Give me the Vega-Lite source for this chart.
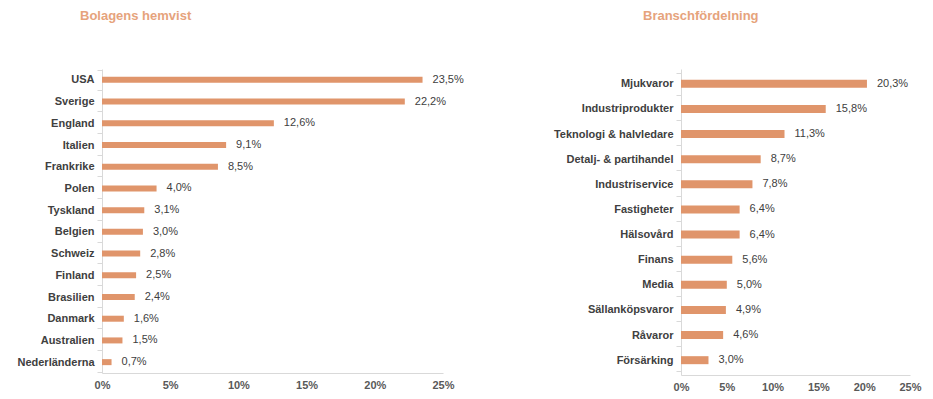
{
  "$schema": "https://vega.github.io/schema/vega-lite/v6.json",
  "padding": {"left": 5, "top": 10, "right": 5, "bottom": 5},
  "config": {
    "font": "Liberation Sans",
    "view": {"stroke": null},
    "concat": {"spacing": 89},
    "locale": {"number": {"decimal": ",", "thousands": " ", "grouping": [3], "currency": ["", " kr"]}},
    "axisY": {"title": null, "labelFont": "Liberation Sans", "labelFontSize": 11, "labelFontWeight": "bold", "labelColor": "#404040", "domainColor": "#D9D9D9", "tickColor": "#D9D9D9", "tickSize": 5, "tickBand": "extent", "labelPadding": 3, "grid": false},
    "axisX": {"title": null, "labelFont": "Liberation Sans", "labelFontSize": 11, "labelFontWeight": "bold", "labelColor": "#595959", "domainColor": "#D9D9D9", "ticks": false, "labelPadding": 6, "grid": false, "labelFlush": false}
  },
  "hconcat": [
    {
      "title": {"text": "Bolagens hemvist", "anchor": "start", "frame": "group", "dx": -22, "offset": 40, "fontSize": 13, "fontWeight": "bold", "color": "#E6A37C", "font": "Liberation Sans"},
      "width": 341,
      "height": 304,
      "data": {"values": [
        {"land": "USA", "andel": 0.235},
        {"land": "Sverige", "andel": 0.222},
        {"land": "England", "andel": 0.126},
        {"land": "Italien", "andel": 0.091},
        {"land": "Frankrike", "andel": 0.085},
        {"land": "Polen", "andel": 0.040},
        {"land": "Tyskland", "andel": 0.031},
        {"land": "Belgien", "andel": 0.030},
        {"land": "Schweiz", "andel": 0.028},
        {"land": "Finland", "andel": 0.025},
        {"land": "Brasilien", "andel": 0.024},
        {"land": "Danmark", "andel": 0.016},
        {"land": "Australien", "andel": 0.015},
        {"land": "Nederländerna", "andel": 0.007}
      ]},
      "encoding": {
        "y": {"field": "land", "type": "nominal", "sort": null, "axis": {"minExtent": 97, "maxExtent": 97}},
        "x": {"field": "andel", "type": "quantitative", "scale": {"domain": [0, 0.25]}, "axis": {"format": ".0%", "values": [0, 0.05, 0.1, 0.15, 0.2, 0.25]}}
      },
      "layer": [
        {"mark": {"type": "bar", "color": "#E0956B", "size": 6}},
        {"mark": {"type": "text", "align": "left", "dx": 10, "fontSize": 11, "color": "#404040", "font": "Liberation Sans"},
         "encoding": {"text": {"field": "andel", "type": "quantitative", "format": ".1%"}}}
      ]
    },
    {
      "title": {"text": "Branschfördelning", "anchor": "start", "frame": "group", "dx": -38, "offset": 40, "fontSize": 13, "fontWeight": "bold", "color": "#E6A37C", "font": "Liberation Sans"},
      "width": 229,
      "height": 306,
      "data": {"values": [
        {"bransch": "Mjukvaror", "andel": 0.203},
        {"bransch": "Industriprodukter", "andel": 0.158},
        {"bransch": "Teknologi & halvledare", "andel": 0.113},
        {"bransch": "Detalj- & partihandel", "andel": 0.087},
        {"bransch": "Industriservice", "andel": 0.078},
        {"bransch": "Fastigheter", "andel": 0.064},
        {"bransch": "Hälsovård", "andel": 0.064},
        {"bransch": "Finans", "andel": 0.056},
        {"bransch": "Media", "andel": 0.050},
        {"bransch": "Sällanköpsvaror", "andel": 0.049},
        {"bransch": "Råvaror", "andel": 0.046},
        {"bransch": "Försärking", "andel": 0.030}
      ]},
      "encoding": {
        "y": {"field": "bransch", "type": "nominal", "sort": null, "scale": {"paddingOuter": 0.14}, "axis": {"minExtent": 122, "maxExtent": 122}},
        "x": {"field": "andel", "type": "quantitative", "scale": {"domain": [0, 0.25]}, "axis": {"format": ".0%", "values": [0, 0.05, 0.1, 0.15, 0.2, 0.25]}}
      },
      "layer": [
        {"mark": {"type": "bar", "color": "#E0956B", "size": 8}},
        {"mark": {"type": "text", "align": "left", "dx": 10, "fontSize": 11, "color": "#404040", "font": "Liberation Sans"},
         "encoding": {"text": {"field": "andel", "type": "quantitative", "format": ".1%"}}}
      ]
    }
  ]
}
